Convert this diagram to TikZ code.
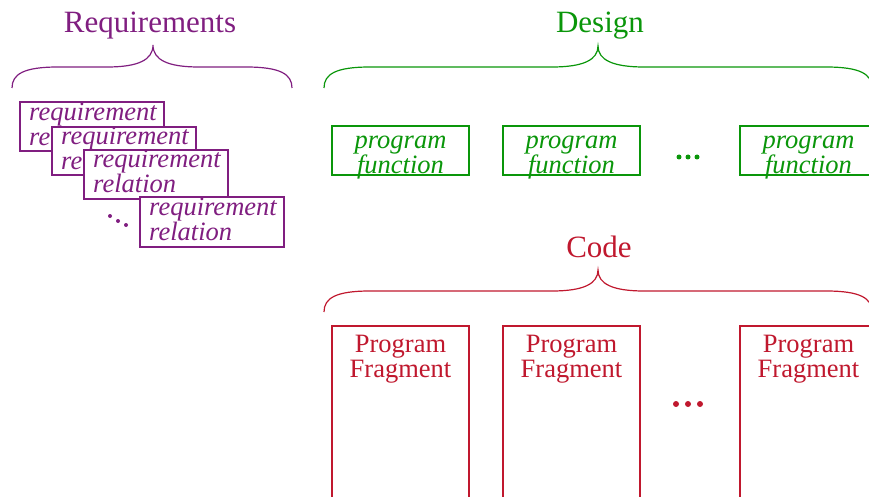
\documentclass[tikz,border=0pt]{standalone}
\usepackage{fontspec}
\setmainfont{Liberation Serif}
\definecolor{reqc}{RGB}{128,30,128}
\definecolor{desc}{RGB}{10,150,10}
\definecolor{codc}{RGB}{192,24,46}
% first-line strut: fixes the distance from a text node's top to its first baseline
\newcommand{\fl}{\rule{0pt}{18pt}}
\begin{document}
\begin{tikzpicture}[x=1pt,y=-1pt,
  title/.style={font=\fontsize{31}{31}\selectfont, anchor=base, inner sep=0pt},
  frame/.style={draw, fill=white, line width=1.2pt, inner sep=0pt, outer sep=0pt,
    anchor=north west, minimum width=#1},
  frame/.default=137pt,
  boxtext/.style={inner sep=0pt, font=\fontsize{26.5}{24}\selectfont},
  brace/.style={line width=1.2pt},
  dot/.style={circle, inner sep=0pt, minimum size=#1},
]
\useasboundingbox (0,0) rectangle (869,497);
\clip (0,0) rectangle (869,497);

% ---------------- Requirements ----------------
\begin{scope}[color=reqc]
  \node[title] (reqtitle) at (150,33) {Requirements};
  \coordinate (rtip) at (153,45);
  \coordinate (rl) at (12,88);
  \coordinate (rr) at (292,88);
  \draw[brace] (rl) .. controls (12,74) and (24,67) .. (58,67) -- (107,67)
    .. controls (138,67) and (153,60) .. (rtip)
    .. controls (153,60) and (168,67) .. (199,67) -- (246,67)
    .. controls (280,67) and (292,74) .. (rr);

  \node[frame=144pt, minimum height=49pt] (r1) at (20,102) {};
  \node[boxtext, anchor=north west, align=left, font=\fontsize{26.5}{24}\selectfont\itshape]
    (r1t) at (29,102) {\fl requirement\\relation};
  \node[frame=144pt, minimum height=48pt] (r2) at (52,127) {};
  \node[boxtext, anchor=north west, align=left, font=\fontsize{26.5}{24}\selectfont\itshape]
    (r2t) at (61,126) {\fl requirement\\relation};
  \node[frame=144pt, minimum height=49pt] (r3) at (84,150) {};
  \node[boxtext, anchor=north west, align=left, font=\fontsize{26.5}{25}\selectfont\itshape]
    (r3t) at (93,149) {\fl requirement\\relation};
  \node[frame=144pt, minimum height=50pt] (r4) at (140,197) {};
  \node[boxtext, anchor=north west, align=left, font=\fontsize{26.5}{25}\selectfont\itshape]
    (r4t) at (149,197) {\fl requirement\\relation};

  \node[dot=4pt, fill=reqc] (rd1) at (110,216) {};
  \node[dot=4pt, fill=reqc] (rd2) at (118,221) {};
  \node[dot=4pt, fill=reqc] (rd3) at (126,225) {};
\end{scope}

% ---------------- Design ----------------
\begin{scope}[color=desc]
  \node[title] (destitle) at (600,33) {Design};
  \coordinate (dtip) at (598,46);
  \coordinate (dl) at (324,88);
  \coordinate (dr) at (872,88);
  \draw[brace] (dl) .. controls (324,74) and (336,67) .. (370,67) -- (552,67)
    .. controls (583,67) and (598,60) .. (dtip)
    .. controls (598,60) and (613,67) .. (644,67) -- (826,67)
    .. controls (860,67) and (872,74) .. (dr);

  \foreach \n/\x in {1/332, 2/503, 3/740} {
    \node[frame, minimum height=49pt] (d\n) at (\x,126) {};
    \node[boxtext, anchor=north, align=center, font=\fontsize{26.5}{24}\selectfont\itshape]
      (d\n t) at ([yshift=-4pt]d\n.north) {\fl program\\function};
  }
  \node[dot=5pt, fill=desc] (dd1) at (679,157) {};
  \node[dot=5pt, fill=desc] (dd2) at (688,157) {};
  \node[dot=5pt, fill=desc] (dd3) at (697,157) {};
\end{scope}

% ---------------- Code ----------------
\begin{scope}[color=codc]
  \node[title] (codtitle) at (599,257) {Code};
  \coordinate (ctip) at (598,270);
  \coordinate (cl) at (324,312);
  \coordinate (cr) at (872,312);
  \draw[brace] (cl) .. controls (324,298) and (336,291) .. (370,291) -- (552,291)
    .. controls (583,291) and (598,284) .. (ctip)
    .. controls (598,284) and (613,291) .. (644,291) -- (826,291)
    .. controls (860,291) and (872,298) .. (cr);

  \foreach \n/\x in {1/332, 2/503, 3/740} {
    \node[frame, minimum height=200pt] (c\n) at (\x,326) {};
    \node[boxtext, anchor=north, align=center, font=\fontsize{26.5}{25}\selectfont]
      (c\n t) at ([yshift=-8pt]c\n.north) {\fl Program\\Fragment};
  }
  \node[dot=6pt, fill=codc] (cd1) at (676,404) {};
  \node[dot=6pt, fill=codc] (cd2) at (688,404) {};
  \node[dot=6pt, fill=codc] (cd3) at (700,404) {};
\end{scope}
\end{tikzpicture}
\end{document}
